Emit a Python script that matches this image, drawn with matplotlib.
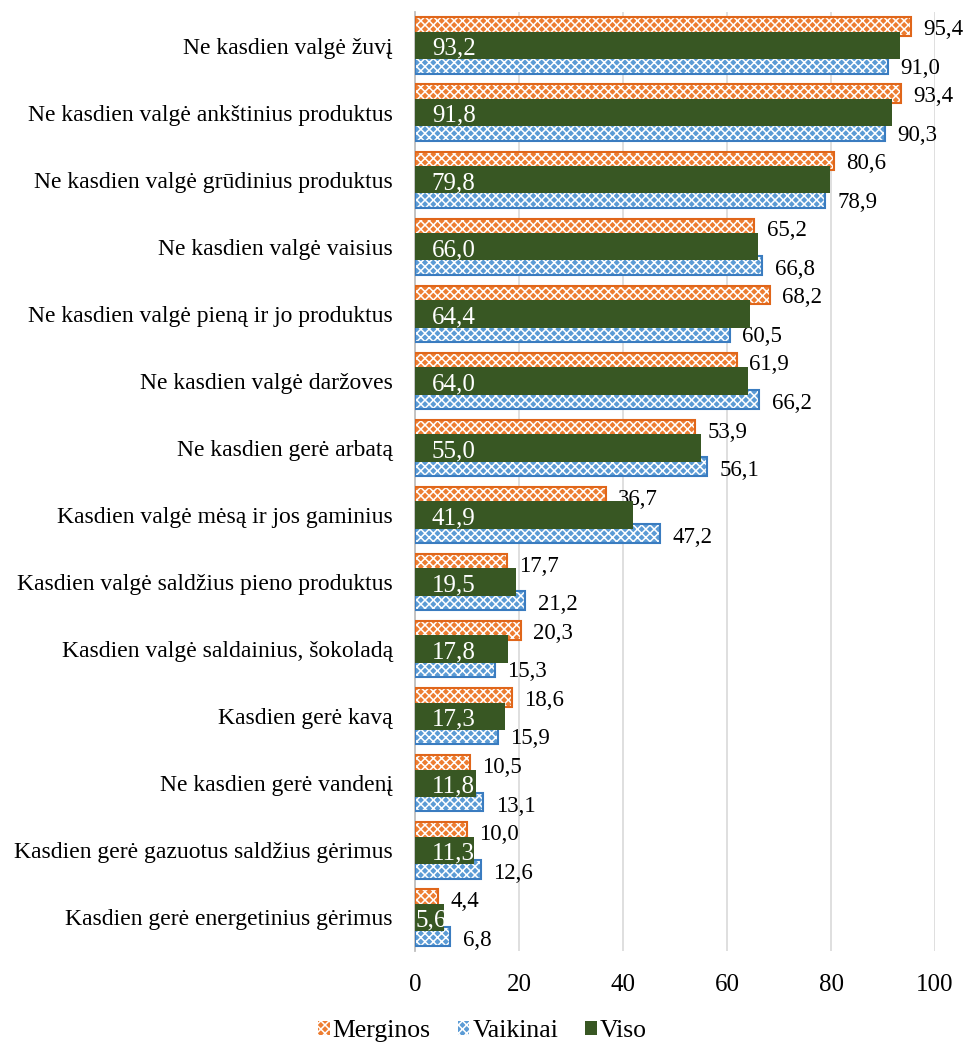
import matplotlib
matplotlib.use("Agg")
import matplotlib.pyplot as plt
import matplotlib.patches as mpatches
import numpy as np

plt.rcParams['font.family'] = ['Liberation Serif', 'DejaVu Serif']
plt.rcParams['hatch.linewidth'] = 1.1

categories = [
    "Ne kasdien valgė žuvį",
    "Ne kasdien valgė ankštinius produktus",
    "Ne kasdien valgė grūdinius produktus",
    "Ne kasdien valgė vaisius",
    "Ne kasdien valgė pieną ir jo produktus",
    "Ne kasdien valgė daržoves",
    "Ne kasdien gerė arbatą",
    "Kasdien valgė mėsą ir jos gaminius",
    "Kasdien valgė saldžius pieno produktus",
    "Kasdien valgė saldainius, šokoladą",
    "Kasdien gerė kavą",
    "Ne kasdien gerė vandenį",
    "Kasdien gerė gazuotus saldžius gėrimus",
    "Kasdien gerė energetinius gėrimus",
]
merginos = [95.4, 93.4, 80.6, 65.2, 68.2, 61.9, 53.9, 36.7, 17.7, 20.3, 18.6, 10.5, 10.0, 4.4]
vaikinai = [91.0, 90.3, 78.9, 66.8, 60.5, 66.2, 56.1, 47.2, 21.2, 15.3, 15.9, 13.1, 12.6, 6.8]
viso = [93.2, 91.8, 79.8, 66.0, 64.4, 64.0, 55.0, 41.9, 19.5, 17.8, 17.3, 11.8, 11.3, 5.6]

orange = "#ED7D31"
orange_edge = "#E0661A"
blue = "#5B9BD5"
blue_edge = "#3A7CC0"
green = "#385723"

def fmt(v):
    return f"{v:.1f}".replace(".", ",")

fig = plt.figure(figsize=(9.65, 10.44), dpi=100)
ax = fig.add_axes([415/965, 1 - 951/1044, 520/965, 939/1044])

y = np.arange(len(categories))
h_side = 0.28
h_mid = 0.41

# patterned bars: solid fill, white hatch overlay, then coloured outline
def pattern_bars(yy, vals, fc, ec, label):
    ax.barh(yy, vals, height=h_side, color=fc, edgecolor="none", zorder=2)
    ax.barh(yy, vals, height=h_side, facecolor="none", edgecolor="white",
            hatch="xxxx", linewidth=0, zorder=3)
    return ax.barh(yy, vals, height=h_side, facecolor="none", edgecolor=ec,
                   linewidth=1.5, zorder=4, label=label)

pattern_bars(y - h_side, merginos, orange, orange_edge, "Merginos")
pattern_bars(y + h_side, vaikinai, blue, blue_edge, "Vaikinai")
ax.barh(y, viso, height=h_mid, color=green, zorder=5, label="Viso")

for i in range(len(categories)):
    ax.annotate(fmt(merginos[i]), (merginos[i], y[i] - h_side), xytext=(9, -6.0),
                textcoords="offset points", va="baseline", ha="left", fontsize=16.5)
    ax.annotate(fmt(vaikinai[i]), (vaikinai[i], y[i] + h_side), xytext=(9, -6.8),
                textcoords="offset points", va="baseline", ha="left", fontsize=16.5)
    x0 = 0 if viso[i] < 8 else 3.1
    ax.annotate(fmt(viso[i]), (x0, y[i]), xytext=(0.5, -6.7), textcoords="offset points",
                color="white", va="baseline", ha="left", fontsize=18, zorder=6)

ax.set_xlim(0, 100)
ax.set_ylim(len(categories) - 0.5, -0.5)
ax.set_xticks(np.arange(0, 101, 20))
ax.set_yticks(y)
ax.set_yticklabels(categories, fontsize=17.0)
ax.tick_params(axis="x", labelsize=18, length=0, pad=16.5)
ax.tick_params(axis="y", length=0, pad=16)
ax.grid(axis="x", color="#D9D9D9", linewidth=1.2, zorder=0)
ax.set_axisbelow(True)
for s in ["top", "right", "bottom"]:
    ax.spines[s].set_visible(False)
ax.spines["left"].set_color("#BFBFBF")
ax.spines["left"].set_linewidth(1.3)
ax.spines["left"].set_zorder(1)

h1 = mpatches.Patch(facecolor=orange, edgecolor="white", hatch="xxxx", linewidth=0)
h2 = mpatches.Patch(facecolor=blue, edgecolor="white", hatch="xxxx", linewidth=0)
h3 = mpatches.Patch(facecolor=green)
fig.legend([h1, h2, h3], ["Merginos", "Vaikinai", "Viso"], loc="lower center",
           bbox_to_anchor=(0.5, -0.02), ncol=3, frameon=False, fontsize=18.5,
           handlelength=0.45, handleheight=0.45, handletextpad=0.12, columnspacing=1.05)

fig.savefig("out.png", dpi=100)
